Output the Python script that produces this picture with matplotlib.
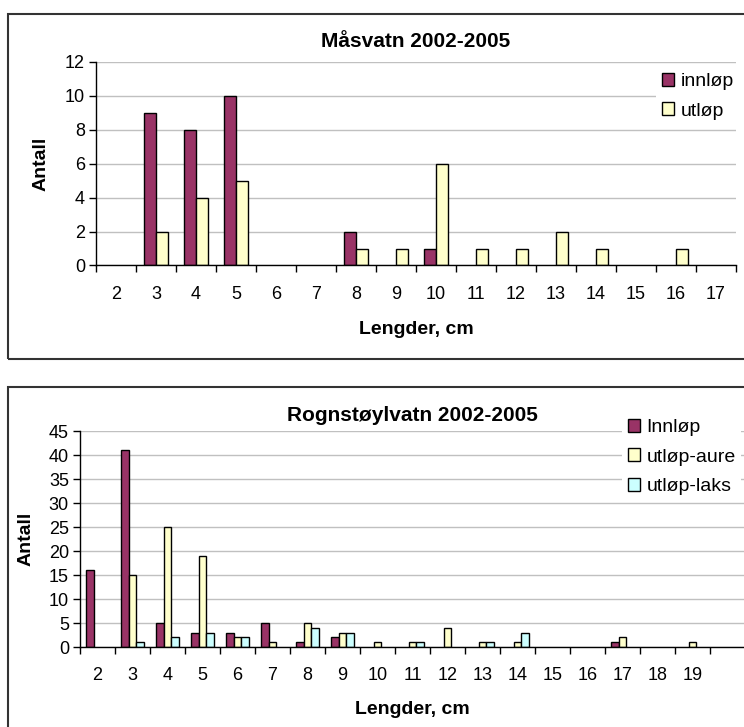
import numpy as np
import matplotlib
matplotlib.use('Agg')
import matplotlib.pyplot as plt
from matplotlib.patches import Rectangle

plt.rcParams['font.family'] = ['Liberation Sans', 'DejaVu Sans']

# Måsvatn
mas_lengths = ['2', '3', '4', '5', '6', '7', '8', '9', '10', '11', '12', '13', '14', '15', '16', '17']
mas_innlop = [0, 9, 8, 10, 0, 0, 2, 0, 1, 0, 0, 0, 0, 0, 0, 0]
mas_utlop = [0, 2, 4, 5, 0, 0, 1, 1, 6, 1, 1, 2, 1, 0, 1, 0]

# Rognstøylvatn
rog_lengths = ['2', '3', '4', '5', '6', '7', '8', '9', '10', '11', '12', '13', '14', '15', '16', '17', '18', '19', '']
rog_innlop = [16, 41, 5, 3, 3, 5, 1, 2, 0, 0, 0, 0, 0, 0, 0, 1, 0, 0, 0]
rog_aure = [0, 15, 25, 19, 2, 1, 5, 3, 1, 1, 4, 1, 1, 0, 0, 2, 0, 1, 0]
rog_laks = [0, 1, 2, 3, 2, 0, 4, 3, 0, 1, 0, 1, 3, 0, 0, 0, 0, 0, 0]

PLUM = '#993366'
CREAM = '#FFFFCC'
CYAN = '#CCFFFF'
GRID = '#C0C0C0'

W, H = 744, 727
fig = plt.figure(figsize=(W / 100, H / 100), dpi=100)


def px_axes(x0, y0, x1, y1):
    # pixel box (top-left origin) -> figure axes
    return fig.add_axes([x0 / W, 1 - y1 / H, (x1 - x0) / W, (y1 - y0) / H])


def frame(x0, y0, x1, y1):
    fig.patches.append(Rectangle((x0 / W, 1 - y1 / H), (x1 - x0) / W, (y1 - y0) / H,
                                 transform=fig.transFigure, fill=False,
                                 edgecolor='#333333', linewidth=1.5, zorder=0))


def bars(ax, x, vals, w, color, label):
    vals = np.asarray(vals)
    keep = vals > 0  # Excel draws nothing for empty classes
    ax.bar(x[keep], vals[keep], w, color=color, edgecolor='black', linewidth=1, label=label)


def style(ax, n, ymax, ystep, labels):
    ax.set_xlim(0, n)
    ax.set_ylim(0, ymax)
    ax.set_yticks(np.arange(0, ymax + 1, ystep))
    ax.set_xticks(np.arange(0, n + 1))
    ax.set_xticklabels([])
    ax.set_xticks(np.arange(n) + 0.5, minor=True)
    ax.set_xticklabels(labels, minor=True)
    ax.tick_params(axis='x', which='major', direction='out', length=5, width=1)
    ax.tick_params(axis='x', which='minor', length=0, pad=14.5, labelsize=13)
    ax.tick_params(axis='y', direction='out', length=5, width=1, labelsize=13, pad=3)
    for s in ['top', 'right']:
        ax.spines[s].set_visible(False)
    ax.spines['left'].set_linewidth(1)
    ax.spines['bottom'].set_linewidth(1)
    ax.yaxis.grid(True, color=GRID, linewidth=1)
    ax.set_axisbelow(True)
    ax.patch.set_visible(False)


leg_kw = dict(loc='upper left', bbox_transform=fig.transFigure, frameon=True, fancybox=False,
              edgecolor='none', facecolor='white', framealpha=1, fontsize=14,
              handlelength=0.65, handleheight=0.65, handletextpad=0.3,
              labelspacing=0.62, borderpad=0.3, borderaxespad=0)

# ---- top chart
frame(8, 14, 760, 359)
ax1 = px_axes(96, 62, 736, 265.5)
n1 = len(mas_lengths)
x1 = np.arange(n1) + 0.5
bw1 = 0.3
bars(ax1, x1 - bw1 / 2, mas_innlop, bw1, PLUM, 'innløp')
bars(ax1, x1 + bw1 / 2, mas_utlop, bw1, CREAM, 'utløp')
style(ax1, n1, 12, 2, mas_lengths)
ax1.set_title('Måsvatn 2002-2005', fontsize=15, fontweight='bold', pad=11)
ax1.set_xlabel('Lengder, cm', fontsize=14, fontweight='bold', labelpad=13)
ax1.set_ylabel('Antall', fontsize=14, fontweight='bold', labelpad=11)
ax1.legend(bbox_to_anchor=(656 / W, 1 - 67 / H), **leg_kw)

# ---- bottom chart
frame(8, 387, 760, 740)
ax2 = px_axes(80, 431, 745, 647)
n2 = len(rog_lengths)
x2 = np.arange(n2) + 0.5
bw2 = 0.22
bars(ax2, x2 - bw2, rog_innlop, bw2, PLUM, 'Innløp')
bars(ax2, x2, rog_aure, bw2, CREAM, 'utløp-aure')
bars(ax2, x2 + bw2, rog_laks, bw2, CYAN, 'utløp-laks')
style(ax2, n2, 45, 5, rog_lengths)
ax2.spines['bottom'].set_clip_on(False)
ax2.set_title('Rognstøylvatn 2002-2005', fontsize=15, fontweight='bold', pad=7)
ax2.set_xlabel('Lengder, cm', fontsize=14, fontweight='bold', labelpad=12)
ax2.set_ylabel('Antall', fontsize=14, fontweight='bold', labelpad=10)
ax2.legend(bbox_to_anchor=(622 / W, 1 - 413 / H), **leg_kw)

fig.savefig('out.png', dpi=100)
